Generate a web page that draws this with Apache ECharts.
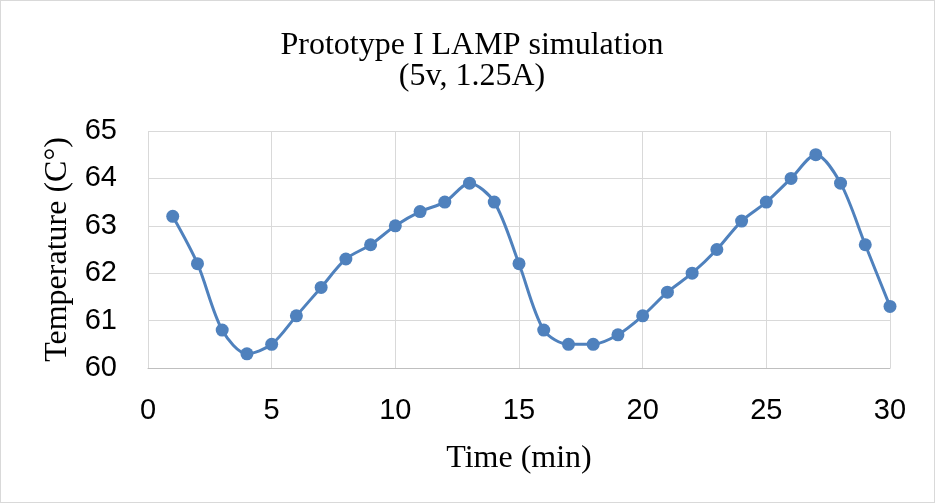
<!DOCTYPE html>
<html>
<head>
<meta charset="utf-8">
<script src="https://cdn.jsdelivr.net/npm/echarts@6/dist/echarts.min.js"></script>
<style>
html,body{margin:0;padding:0;background:#fff;}
#c{width:933px;height:501px;border:1px solid #d9d9d9;}
</style>
</head>
<body>
<div id="c"></div>
<script>
const times = [1,2,3,4,5,6,7,8,9,10,11,12,13,14,15,16,17,18,19,20,21,22,23,24,25,26,27,28,29,30];
const temps = [63.2,62.2,60.8,60.3,60.5,61.1,61.7,62.3,62.6,63.0,63.3,63.5,63.9,63.5,62.2,60.8,60.5,60.5,60.7,61.1,61.6,62.0,62.5,63.1,63.5,64.0,64.5,63.9,62.6,61.3];
const titleLines = ['Prototype I LAMP simulation','(5v, 1.25A)'];
const xName = 'Time (min)';
const yName = 'Temperature (C°)';

const chart = echarts.init(document.getElementById('c'));
chart.setOption({
  animation:false,
  title:{
    text: titleLines.join('\n'),
    left: 466, top: 24, textAlign:'center',
    textStyle:{fontFamily:'Liberation Serif', fontSize:32, fontWeight:'normal', color:'#000', lineHeight:31}
  },
  grid:{left:147, right:44, top:130, bottom:134},
  xAxis:{
    type:'value', min:0, max:30, interval:5,
    name:xName, nameLocation:'middle', nameGap:75,
    nameTextStyle:{fontFamily:'Liberation Serif', fontSize:32, color:'#000'},
    axisLine:{show:true, lineStyle:{color:'#bfbfbf', width:1}},
    axisTick:{show:false},
    axisLabel:{fontFamily:'Liberation Sans', fontSize:29, color:'#000', margin:28},
    splitLine:{show:true, lineStyle:{color:'#d9d9d9', width:1}}
  },
  yAxis:{
    type:'value', min:60, max:65, interval:1,
    name:yName, nameLocation:'middle', nameGap:72, nameRotate:90,
    nameTextStyle:{fontFamily:'Liberation Serif', fontSize:32, color:'#000'},
    axisLine:{show:false},
    axisTick:{show:false},
    axisLabel:{fontFamily:'Liberation Sans', fontSize:29, color:'#000', margin:31},
    splitLine:{show:true, lineStyle:{color:'#d9d9d9', width:1}}
  },
  series:[{
    type:'line',
    data: times.map((t,i)=>[t,temps[i]]),
    smooth:0.3,
    symbol:'circle', symbolSize:13,
    lineStyle:{color:'#4f81bd', width:3},
    itemStyle:{color:'#4f81bd'}
  }]
});
</script>
</body>
</html>
